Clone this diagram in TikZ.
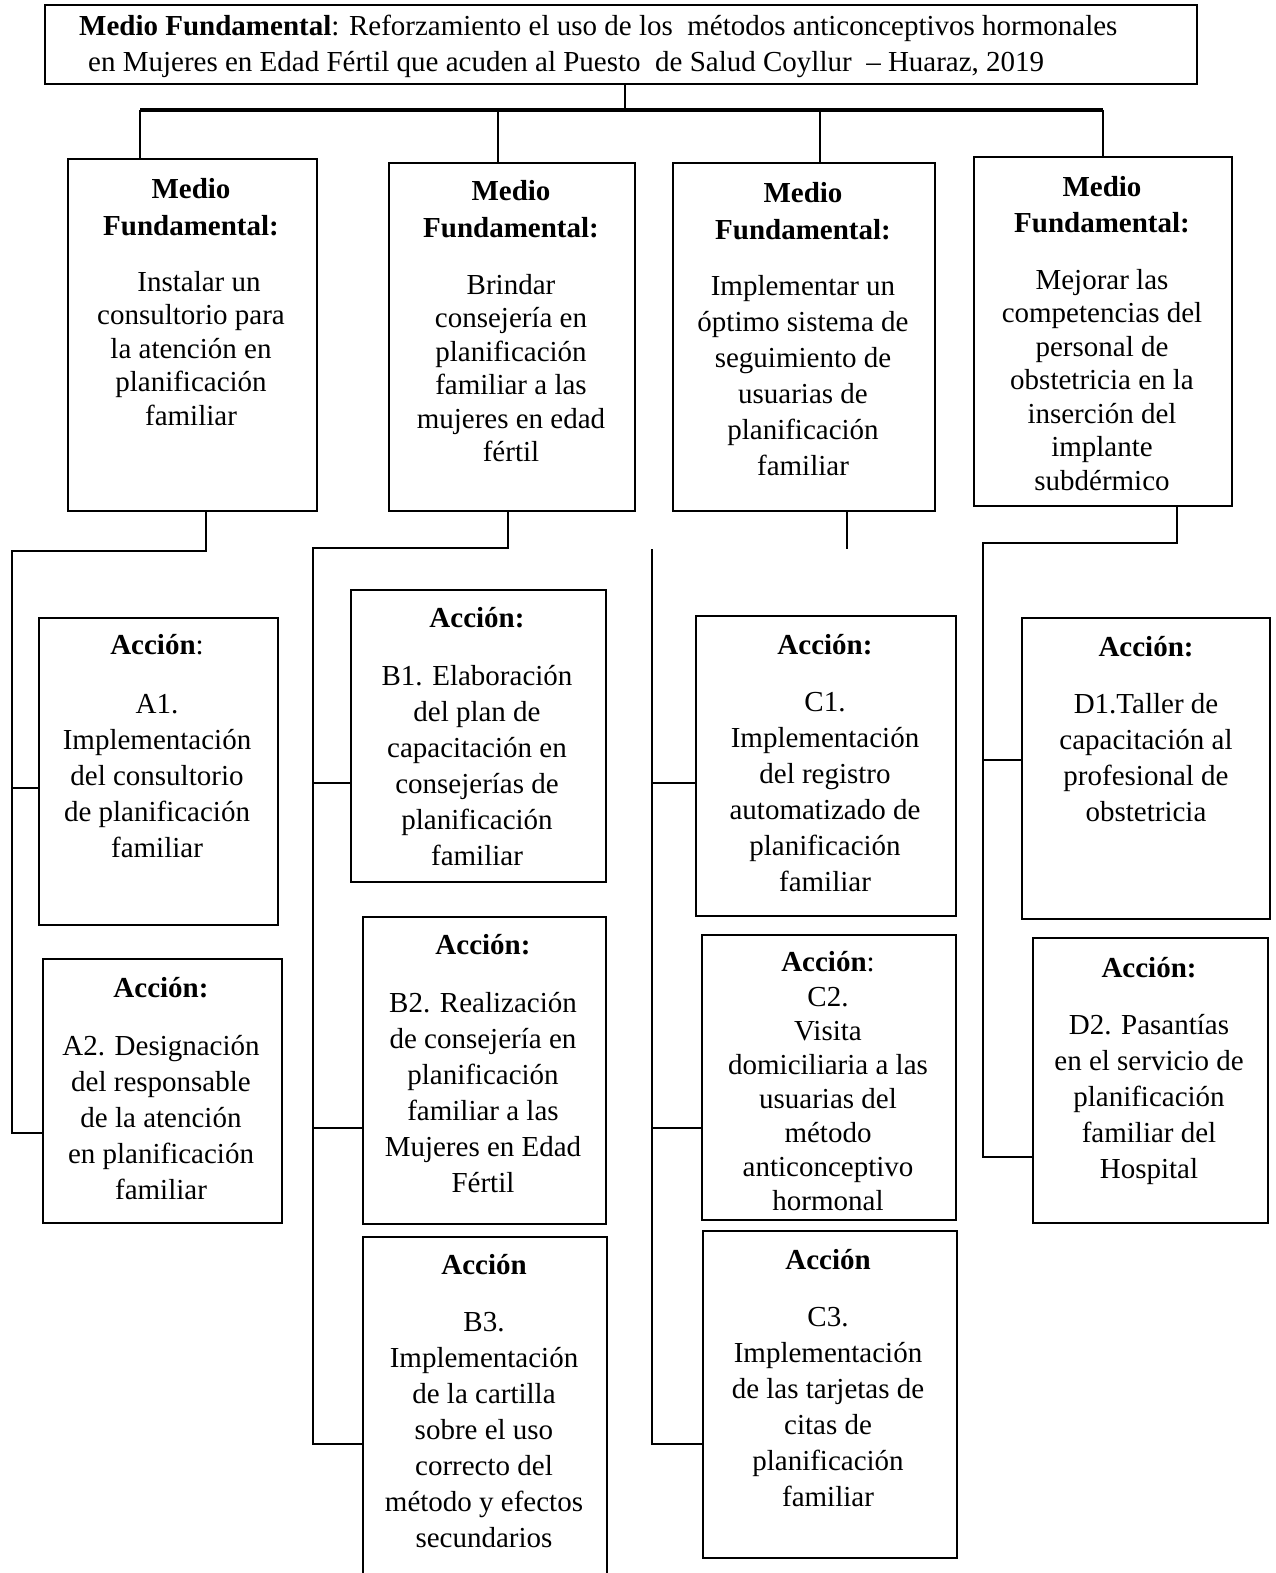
\documentclass[tikz,border=0pt]{standalone}
\usepackage{fontspec}
\setmainfont{Liberation Serif}
\begin{document}
\begin{tikzpicture}[x=1pt,y=-1pt,
  box/.style={draw, line width=2.2pt, inner sep=0pt, anchor=north west},
  txt/.style={align=center, inner sep=0pt, anchor=north, font=\fontsize{29}{36}\selectfont},
  txtb/.style={txt, font=\fontsize{29}{33.5}\selectfont},
  txtc/.style={txt, font=\fontsize{29}{34}\selectfont},
  con/.style={line width=1.6pt}]
\useasboundingbox (0,0) rectangle (1275,1573);
\clip (0,0) rectangle (1275,1573);
%title
\node[box, minimum width=1152pt, minimum height=79pt] (top) at (44,4) {};
\node[txt, anchor=north west, align=left] (toptxt) at (79,15)
  {\textbf{Medio Fundamental}: Reforzamiento el uso de los\ \ métodos anticonceptivos hormonales\\
   \hspace*{9pt}en Mujeres en Edad Fértil que acuden al Puesto\ \ de Salud Coyllur\ \ -- Huaraz, 2019};
%medio fundamental
\node[box, minimum width=249pt, minimum height=352pt] (mf1) at (67,158) {};
\node[box, minimum width=246pt, minimum height=348pt] (mf2) at (388,162) {};
\node[box, minimum width=262pt, minimum height=348pt] (mf3) at (672,162) {};
\node[box, minimum width=258pt, minimum height=349pt] (mf4) at (973,156) {};
\node[txtb] (mf1txt) at (191,178) {\textbf{Medio}\\[3.5pt] \textbf{Fundamental:}\\[22.5pt]
  \hspace*{16pt}Instalar un\\ consultorio para\\ la atención en\hspace*{26pt}\\ planificación\\ familiar};
\node[txtb] (mf2txt) at (511,180) {\textbf{Medio}\\[3.5pt] \textbf{Fundamental:}\\[23.5pt]
  Brindar\\ consejería en\\ planificación\\ familiar a las\\ mujeres en edad\\ fértil};
\node[txt] (mf3txt) at (803,182) {\textbf{Medio}\\[1pt] \textbf{Fundamental:}\\[20pt]
  Implementar un\\ óptimo sistema de\\ seguimiento de\\ usuarias de\\ planificación\\ familiar};
\node[txtb] (mf4txt) at (1102,176) {\textbf{Medio}\\[2.5pt] \textbf{Fundamental:}\\[23.5pt]
  Mejorar las\\ competencias del\\ personal de\\ obstetricia en la\\ inserción del\\ implante\\ subdérmico};
%acciones
\node[box, minimum width=239pt, minimum height=307pt] (a1) at (38,617) {};
\node[box, minimum width=239pt, minimum height=264pt] (a2) at (42,958) {};
\node[box, minimum width=255pt, minimum height=292pt] (b1) at (350,589) {};
\node[box, minimum width=243pt, minimum height=307pt] (b2) at (362,916) {};
\node[box, minimum width=244pt, minimum height=360pt] (b3) at (362,1236) {};
\node[box, minimum width=260pt, minimum height=300pt] (c1) at (695,615) {};
\node[box, minimum width=254pt, minimum height=285pt] (c2) at (701,934) {};
\node[box, minimum width=254pt, minimum height=327pt] (c3) at (702,1230) {};
\node[box, minimum width=248pt, minimum height=301pt] (d1) at (1021,617) {};
\node[box, minimum width=235pt, minimum height=285pt] (d2) at (1032,937) {};
\node[txt] (a1txt) at (157,634) {\textbf{Acción}:\\[23pt] A1.\\ Implementación\\ del consultorio\\ de planificación\\ familiar};
\node[txt] (a2txt) at (161,977) {\textbf{Acción:}\\[22pt] A2. Designación\\ del responsable\\ de la atención\\ en planificación\\ familiar};
\node[txt] (b1txt) at (477,607) {\textbf{Acción:}\\[22pt] B1. Elaboración\\ del plan de\\ capacitación en\\ consejerías de\\ planificación\\ familiar};
\node[txt] (b2txt) at (483,934) {\textbf{Acción:}\\[22pt] B2. Realización\\ de consejería en\\ planificación\\ familiar a las\\ Mujeres en Edad\\ Fértil};
\node[txt] (b3txt) at (484,1254) {\textbf{Acción}\\[21pt] B3.\\ Implementación\\ de la cartilla\\ sobre el uso\\ correcto del\\ método y efectos\\ secundarios};
\node[txt] (c1txt) at (825,634) {\textbf{Acción:}\\[21pt] C1.\\ Implementación\\ del registro\\ automatizado de\\ planificación\\ familiar};
\node[txtc] (c2txt) at (828,951) {\textbf{Acción}:\\[1pt] C2.\\ Visita\\ domiciliaria a las\\ usuarias del\\ método\\ anticonceptivo\\ hormonal};
\node[txt] (c3txt) at (828,1249) {\textbf{Acción}\\[21pt] C3.\\ Implementación\\ de las tarjetas de\\ citas de\\ planificación\\ familiar};
\node[txt] (d1txt) at (1146,636) {\textbf{Acción:}\\[21pt] D1.Taller de\\ capacitación al\\ profesional de\\ obstetricia};
\node[txt] (d2txt) at (1149,957) {\textbf{Acción:}\\[21pt] D2. Pasantías\\ en el servicio de\\ planificación\\ familiar del\\ Hospital};
%bar
\coordinate (bar) at (625,110);
\coordinate (barl) at (140,110);
\coordinate (barr) at (1103,110);
\draw[con] (top.south -| bar) -- (bar);
\draw[line width=4pt] (barl) -- (barr);
\foreach \x/\b in {140/mf1, 498/mf2, 820/mf3, 1103/mf4}
  \draw[con] (\x,110) -- (\b.north -| \x,0);
%branch A
\coordinate (ja) at (12,551);
\draw[con] (mf1.south -| 206,0) |- (ja) -- (ja |- 0,1133) -- (a2.west |- 0,1133);
\draw[con] (ja |- 0,788) -- (a1.west |- 0,788);
%branch B
\coordinate (jb) at (313,548);
\draw[con] (mf2.south -| 508,0) |- (jb) -- (jb |- 0,1444) -- (b3.west |- 0,1444);
\draw[con] (jb |- 0,783) -- (b1.west |- 0,783);
\draw[con] (jb |- 0,1128) -- (b2.west |- 0,1128);
%branch C
\coordinate (jc) at (652,549);
\draw[con] (mf3.south -| 847,0) -- (847,549);
\draw[con] (jc) -- (jc |- 0,1444) -- (c3.west |- 0,1444);
\draw[con] (jc |- 0,783) -- (c1.west |- 0,783);
\draw[con] (jc |- 0,1128) -- (c2.west |- 0,1128);
%branch D
\coordinate (jd) at (983,543);
\draw[con] (mf4.south -| 1177,0) |- (jd) -- (jd |- 0,1157) -- (d2.west |- 0,1157);
\draw[con] (jd |- 0,760) -- (d1.west |- 0,760);
\end{tikzpicture}
\end{document}
